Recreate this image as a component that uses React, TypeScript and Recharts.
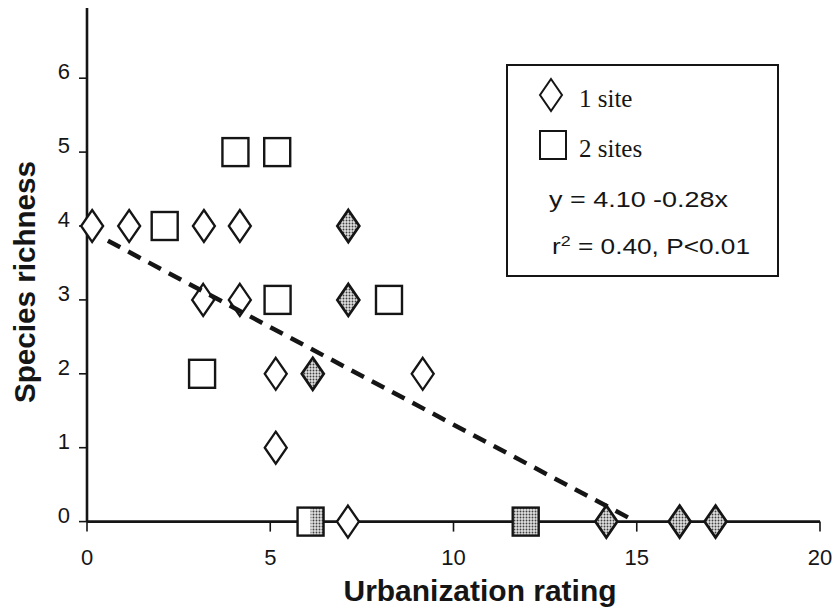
import React from 'react';
import { ScatterChart, Scatter, XAxis, YAxis, Legend } from 'recharts';

// ---- data ----
const xTicks = [0, 5, 10, 15, 20];
const yTicks = [0, 1, 2, 3, 4, 5, 6];

// 1 site, open diamonds
const oneSiteOpen = [
  { x: 0.14, y: 4 }, { x: 1.15, y: 4 }, { x: 3.19, y: 4 }, { x: 4.17, y: 4 },
  { x: 3.17, y: 3 }, { x: 4.17, y: 3 }, { x: 5.15, y: 2 }, { x: 5.15, y: 1 },
  { x: 9.16, y: 2 }, { x: 7.12, y: 0 },
];
// 2 sites, open squares
const twoSitesOpen = [
  { x: 2.12, y: 4 }, { x: 4.05, y: 5 }, { x: 5.19, y: 5 }, { x: 5.2, y: 3 },
  { x: 8.24, y: 3 }, { x: 3.14, y: 2 },
];
// 1 site, shaded diamonds
const oneSiteShaded = [
  { x: 7.13, y: 4 }, { x: 7.13, y: 3 }, { x: 6.16, y: 2 },
  { x: 14.17, y: 0 }, { x: 16.17, y: 0 }, { x: 17.15, y: 0 },
];
// 2 sites, shaded square
const twoSitesShaded = [{ x: 11.97, y: 0 }];
// 2 sites, half shaded square
const twoSitesHalf = [{ x: 6.1, y: 0 }];
// regression line (dashed), as drawn
const fitLine = [{ x: 0.57, y: 3.8 }, { x: 14.9, y: 0.02 }];

const equationText = 'y = 4.10 -0.28x';
const statsPrefix = 'r';
const statsRest = ' = 0.40, P<0.01';

const INK = '#151515';
const SANS = "'Liberation Sans', Arial, Helvetica, sans-serif";
const SERIF = "'Liberation Serif', 'Times New Roman', serif";

const DW = 11; // diamond half width
const DH = 16; // diamond half height
const SW = 13; // square half width
const SH = 14; // square half height

const Defs = () => (
  <defs>
    <pattern id="dotFill" width="3" height="3" patternUnits="userSpaceOnUse">
      <rect width="3" height="3" fill="#e0e0e0" />
      <circle cx="1.5" cy="1.5" r="0.95" fill="#404040" />
    </pattern>
  </defs>
);

const diamondPts = (cx: number, cy: number) =>
  `${cx},${cy - DH} ${cx + DW},${cy} ${cx},${cy + DH} ${cx - DW},${cy}`;

const OpenDiamond = (p: any) => (
  <polygon points={diamondPts(p.cx, p.cy)} fill="#fff" stroke={INK} strokeWidth={2.3} />
);
const ShadedDiamond = (p: any) => (
  <g>
    <Defs />
    <polygon points={diamondPts(p.cx, p.cy)} fill="url(#dotFill)" stroke={INK} strokeWidth={2.7} />
  </g>
);
const OpenSquare = (p: any) => (
  <rect x={p.cx - SW} y={p.cy - SH} width={SW * 2} height={SH * 2} fill="#fff" stroke={INK} strokeWidth={2.4} />
);
const ShadedSquare = (p: any) => (
  <g>
    <Defs />
    <rect x={p.cx - SW} y={p.cy - SH} width={SW * 2} height={SH * 2} fill="url(#dotFill)" stroke={INK} strokeWidth={2.4} />
  </g>
);
const HalfSquare = (p: any) => (
  <g>
    <Defs />
    <rect x={p.cx - SW} y={p.cy - SH} width={SW * 2} height={SH * 2} fill="#fff" stroke="none" />
    <rect x={p.cx} y={p.cy - SH} width={SW} height={SH * 2} fill="url(#dotFill)" stroke="none" />
    <rect x={p.cx - SW} y={p.cy - SH} width={SW * 2} height={SH * 2} fill="none" stroke={INK} strokeWidth={2.4} />
  </g>
);
const NoShape = () => <g />;

const XTick = (p: any) => (
  <text x={p.x} y={p.y + 31} textAnchor="middle" fontFamily={SANS} fontSize={22} fill={INK}>
    {p.payload.value}
  </text>
);
const YTick = (p: any) => (
  <text x={p.x} y={p.y + 1} textAnchor="end" fontFamily={SANS} fontSize={22} fill={INK}>
    {p.payload.value}
  </text>
);

const LegendBox = (props: any) => {
  const items = (props.payload || []).filter((e: any) => e.type !== 'none');
  return (
    <svg width={273} height={213} style={{ display: 'block' }}>
      <rect x={1} y={1} width={271} height={211} fill="#fff" stroke={INK} strokeWidth={2} />
      {items.map((e: any, i: number) => {
        const cy = 31 + i * 50;
        return (
          <g key={e.value}>
            {i === 0 ? (
              <polygon points={diamondPts(45, cy)} fill="#fff" stroke={INK} strokeWidth={2} />
            ) : (
              <rect x={34} y={cy - 14} width={26} height={28} fill="#fff" stroke={INK} strokeWidth={2} />
            )}
            <text x={73} y={cy + 12} fontFamily={SERIF} fontSize={25} fill={INK}>
              {e.value}
            </text>
          </g>
        );
      })}
      <text x={43} y={143} fontFamily={SANS} fontSize={22} fill={INK} textLength={179} lengthAdjust="spacingAndGlyphs">
        {equationText}
      </text>
      <text x={46} y={190} fontFamily={SANS} fontSize={22} fill={INK} textLength={198} lengthAdjust="spacingAndGlyphs">
        <tspan>{statsPrefix}</tspan>
        <tspan fontSize={15} dy={-8}>2</tspan>
        <tspan dy={8}>{statsRest}</tspan>
      </text>
    </svg>
  );
};

export default function App() {
  return (
    <div style={{ position: 'absolute', left: 0, top: 0, width: 836, height: 608, background: '#fff' }}>
      <ScatterChart width={836} height={608} margin={{ top: 8, right: 16, left: 7, bottom: 26.4 }}>
        <XAxis
          type="number"
          dataKey="x"
          domain={[0, 20]}
          ticks={xTicks}
          height={60}
          tickSize={10}
          tickMargin={2}
          axisLine={{ stroke: INK, strokeWidth: 2.6 }}
          tickLine={{ stroke: INK, strokeWidth: 1.6 }}
          tick={<XTick />}
          label={{
            content: () => (
              <text x={480} y={601} textAnchor="middle" fontFamily={SANS} fontWeight="bold" fontSize={29} fill={INK} textLength={273} lengthAdjust="spacingAndGlyphs">
                Urbanization rating
              </text>
            ),
          }}
        />
        <YAxis
          type="number"
          dataKey="y"
          domain={[0, 6.95]}
          ticks={yTicks}
          width={80}
          tickSize={8}
          tickMargin={9}
          axisLine={{ stroke: INK, strokeWidth: 2.6 }}
          tickLine={{ stroke: INK, strokeWidth: 1.6 }}
          tick={<YTick />}
          label={{
            content: () => (
              <text x={0} y={0} transform="translate(35,282) rotate(-90)" textAnchor="middle" fontFamily={SANS} fontWeight="bold" fontSize={30} fill={INK} textLength={242} lengthAdjust="spacingAndGlyphs">
                Species richness
              </text>
            ),
          }}
        />
        <Legend
          layout="horizontal"
          verticalAlign="middle"
          align="center"
          content={<LegendBox />}
          wrapperStyle={{ position: 'absolute', left: 506, top: 64, width: 273, height: 213 }}
        />
        <Scatter name="1 site" data={oneSiteOpen} shape={OpenDiamond} isAnimationActive={false} legendType="diamond" />
        <Scatter name="2 sites" data={twoSitesOpen} shape={OpenSquare} isAnimationActive={false} legendType="square" />
        <Scatter name="1 site shaded" data={oneSiteShaded} shape={ShadedDiamond} isAnimationActive={false} legendType="none" />
        <Scatter name="2 sites shaded" data={twoSitesShaded} shape={ShadedSquare} isAnimationActive={false} legendType="none" />
        <Scatter name="2 sites half" data={twoSitesHalf} shape={HalfSquare} isAnimationActive={false} legendType="none" />
        <Scatter
          name="fit"
          data={fitLine}
          shape={NoShape}
          line={{ stroke: INK, strokeWidth: 4.5, strokeDasharray: '14 9' }}
          isAnimationActive={false}
          legendType="none"
        />
      </ScatterChart>
    </div>
  );
}
